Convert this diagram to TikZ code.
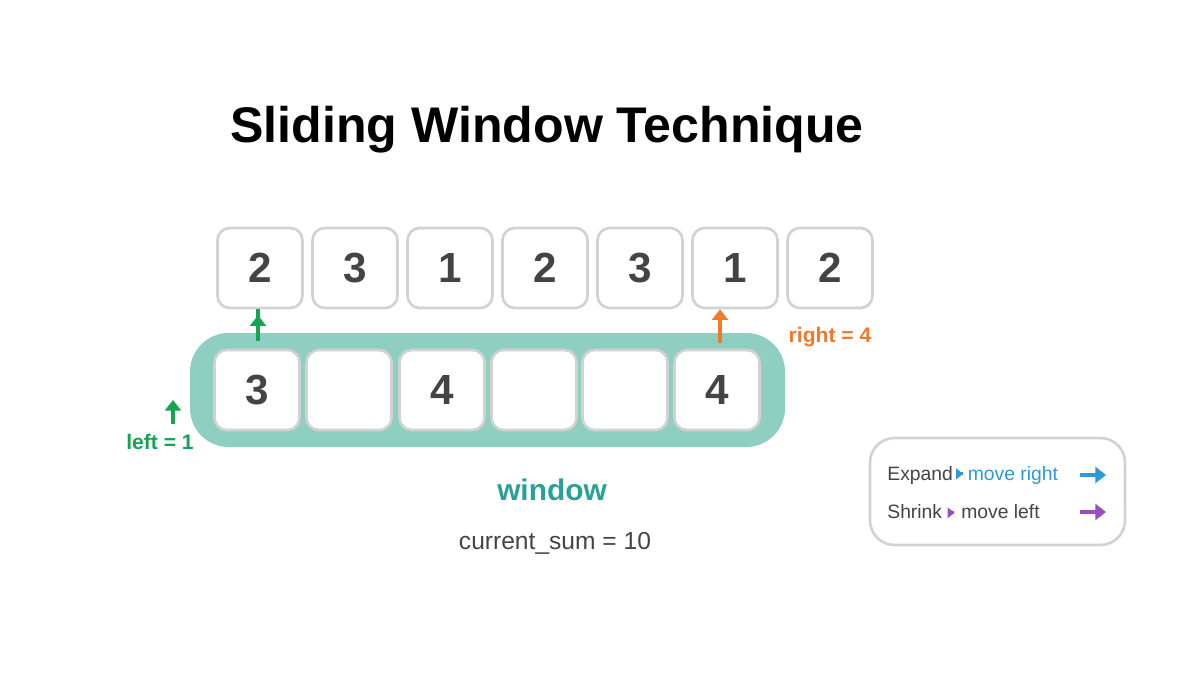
\documentclass[tikz,border=0pt]{standalone}
\usepackage{fontspec}
\setmainfont{Liberation Sans}
\usetikzlibrary{positioning,arrows.meta}
\definecolor{teal}{HTML}{8ECFC2}
\definecolor{tealtxt}{HTML}{2AA198}
\definecolor{cellline}{HTML}{D2D2D2}
\definecolor{green}{HTML}{17A354}
\definecolor{orange}{HTML}{EE7A2A}
\definecolor{blue}{HTML}{2A9AD8}
\definecolor{purple}{HTML}{9A4DC0}
\definecolor{txt}{HTML}{444444}
\newcommand{\smallarr}[1]{\tikz[baseline=-0.6ex]\draw[#1,line width=1.6pt,-{Triangle[length=4pt,width=6pt]}] (0,0) -- (0.35,0);}
\begin{document}
\begin{tikzpicture}[x=0.02cm,y=-0.02cm,
  cell/.style={draw=cellline,line width=1.5pt,fill=white,rounded corners=7pt,
    minimum width=1.7cm,minimum height=1.6cm,inner sep=0pt,
    font=\fontsize{24}{28}\selectfont\bfseries,text=txt},
  ptr/.style={-{Triangle[length=6pt,width=9pt]},line width=2.2pt},
  lbl/.style={font=\fontsize{12}{14}\selectfont\bfseries}
  ]
\useasboundingbox (0,0) rectangle (1200,686);
\node[font=\fontsize{28.5}{34}\selectfont\bfseries] (title) at (547,130) {Sliding Window Technique};
% input array
\foreach \v [count=\i] in {2,3,1,2,3,1,2}
  \node[cell] (a\i) at ({260+95*(\i-1)},268) {\v};
% window band
\fill[teal,rounded corners=22pt] (190,333) rectangle (785,447);
\foreach \v/\x [count=\i] in {3/257,/349,4/442,/534,/625,4/717}
  \node[cell] (w\i) at (\x,390) {\v};
% pointers
\coordinate (lft) at (258,341);
\coordinate (rgt) at (720,343);
\draw[ptr,green] (lft) -- (a1.south -| lft) ++(0,6);
\draw[ptr,orange] (rgt) -- (a6.south -| rgt);
\node[lbl,text=orange] (rlab) at (830,337) {right = 4};
\node[lbl,text=green] (llab) at (160,442) {left = 1};
\coordinate (lt) at (173,424);
\draw[ptr,green] (lt) -- ++(0,-24);
\node[font=\fontsize{17}{20}\selectfont\bfseries,text=tealtxt] (win) at (552,490) {window};
\node[font=\fontsize{14}{17}\selectfont,text=txt] (sum) at (555,543) {current\_sum = 10};
% legend
\draw[cellline,line width=1.5pt,fill=white,rounded corners=14pt] (870,438) rectangle (1125,545);
\node[anchor=west,font=\fontsize{11}{13}\selectfont,text=txt,inner sep=0pt] (e1) at (887,475)
  {Expand\,\smallarr{blue}\,\textcolor{blue}{move right}};
\node[anchor=west,font=\fontsize{11}{13}\selectfont,text=txt,inner sep=0pt] (e2) at (887,512)
  {Shrink \smallarr{purple}\ move left};
\coordinate (b1) at (1080,475);
\coordinate (b2) at (1080,512);
\draw[ptr,blue] (b1) -- ++(26,0);
\draw[ptr,purple] (b2) -- ++(26,0);
\end{tikzpicture}
\end{document}
